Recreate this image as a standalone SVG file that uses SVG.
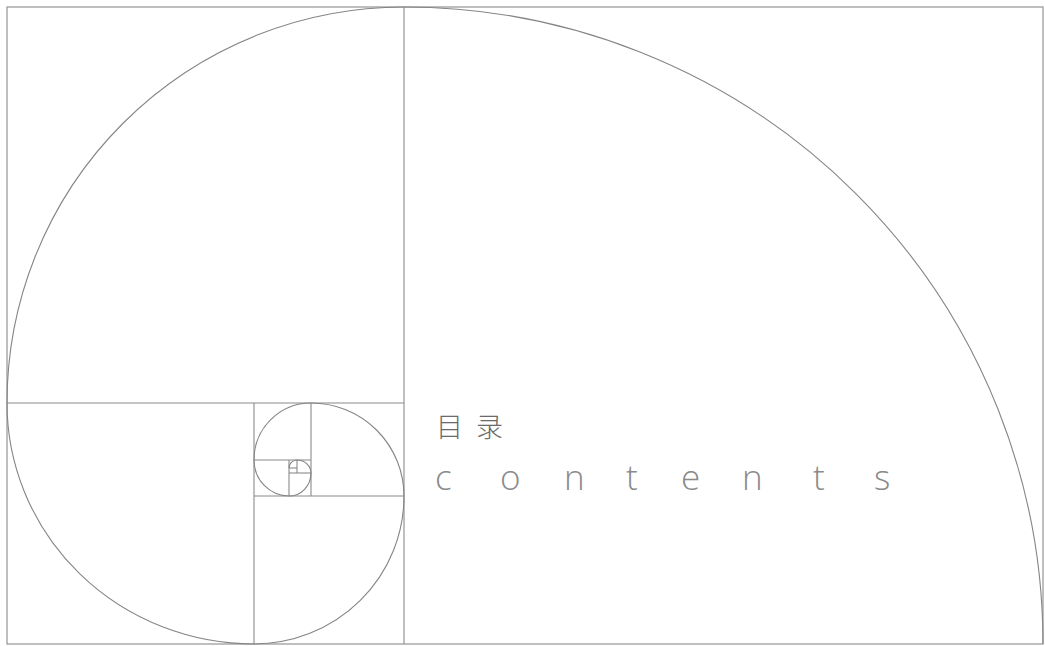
<svg xmlns="http://www.w3.org/2000/svg" width="1045" height="646" viewBox="0 0 1045 646">
<style>
.ln{fill:none;stroke:#8a8a8a;stroke-width:1.1}
.sp{fill:none;stroke:#858585;stroke-width:1.1}
.cn{font-family:"Noto Sans CJK SC","Noto Sans",sans-serif;font-size:27px;fill:#6a6a6a;font-weight:300}
.en{font-family:"Open Sans","Liberation Sans",sans-serif;font-size:35px;fill:#8a8a8a;font-weight:300}
</style>
<rect width="1045" height="646" fill="#ffffff"/>
<g id="grid">
<rect class="ln" x="7" y="7" width="1036" height="637"/>
<line class="ln" x1="404" y1="7" x2="404" y2="644"/>
<line class="ln" x1="7" y1="403" x2="404" y2="403"/>
<line class="ln" x1="254" y1="403" x2="254" y2="644"/>
<line class="ln" x1="254" y1="496" x2="404" y2="496"/>
<line class="ln" x1="311" y1="403" x2="311" y2="496"/>
<line class="ln" x1="254" y1="460" x2="311" y2="460"/>
<line class="ln" x1="289" y1="460" x2="289" y2="496"/>
<line class="ln" x1="289" y1="473" x2="311" y2="473"/>
<line class="ln" x1="297" y1="460" x2="297" y2="473"/>
<line class="ln" x1="289" y1="468" x2="297" y2="468"/>
</g>
<g id="spiral">
<path class="sp" d="M 1043 644 A 639 637 0 0 0 404 7 A 397 396 0 0 0 7 403 A 247 241 0 0 0 254 644 A 150 148 0 0 0 404 496 A 93 93 0 0 0 311 403 A 57 57 0 0 0 254 460 A 35 36 0 0 0 289 496 A 22 23 0 0 0 311 473 A 14 13 0 0 0 297 460 A 8 8 0 0 0 289 468"/>
</g>
<g id="title">
<text class="cn" x="436" y="437">目</text>
<text class="cn" x="476" y="437">录</text>
<text class="en" y="490"><tspan x="435">c</tspan><tspan x="500">o</tspan><tspan x="564">n</tspan><tspan x="626">t</tspan><tspan x="681">e</tspan><tspan x="742">n</tspan><tspan x="813">t</tspan><tspan x="874">s</tspan></text>
</g>
</svg>
